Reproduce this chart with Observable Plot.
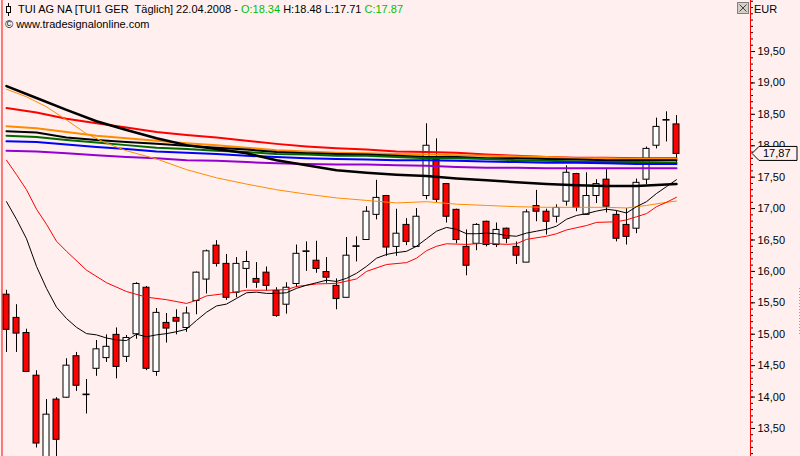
<!DOCTYPE html>
<html><head><meta charset="utf-8">
<script src="https://cdn.jsdelivr.net/npm/d3@7"></script>
<script src="https://cdn.jsdelivr.net/npm/@observablehq/plot@0.6"></script>
<style>html,body{margin:0;padding:0;background:#fff0ef;overflow:hidden}</style>
</head><body><div id="chart"></div>
<script>
// ---- daily candles (index 0..67), last bar = 22.04.2008 ----
const open  = [15.63,15.26,15.02,14.34,12.98,13.96,13.99,14.65,14.03,14.45,
               14.62,14.99,14.64,15.00,15.74,14.40,15.18,15.26,15.10,15.53,
               15.87,16.41,16.12,15.66,16.04,15.88,15.98,15.69,15.47,15.80,
               16.31,16.17,15.99,15.77,15.58,16.39,16.50,16.90,17.20,16.39,
               16.74,16.39,17.20,17.78,17.39,16.98,16.39,16.44,16.79,16.42,
               16.68,16.39,16.14,17.04,16.95,16.87,17.11,17.55,16.90,17.20,
               17.46,16.90,16.74,16.68,17.46,18.00,18.40,18.34];
const high  = [15.70,15.47,15.08,14.42,13.96,13.99,14.61,14.71,14.28,14.90,
               14.99,15.10,14.98,15.82,15.76,15.41,15.33,15.39,15.43,15.99,
               16.34,16.49,16.27,16.22,16.32,16.14,16.07,15.74,15.82,16.42,
               16.47,16.48,16.22,15.88,16.54,16.55,17.03,17.45,17.21,16.99,
               16.84,17.00,18.35,18.11,17.40,16.99,16.66,16.76,16.80,16.77,
               16.69,16.47,16.98,17.29,16.99,17.06,17.68,17.56,17.57,17.46,
               17.62,16.96,17.00,17.47,17.98,18.44,18.54,18.48];
const low   = [14.71,14.71,14.39,13.19,12.95,12.98,13.98,14.09,13.73,14.33,
               14.55,14.29,14.55,14.92,14.42,14.33,14.86,14.99,15.03,15.31,
               15.64,16.07,15.54,15.58,15.73,15.73,15.69,15.27,15.32,15.74,
               16.00,15.97,15.81,15.39,15.58,16.15,16.50,16.82,16.24,16.24,
               16.41,16.39,17.14,17.08,16.77,16.44,15.93,16.33,16.39,16.38,
               16.44,16.11,16.14,16.79,16.58,16.77,17.04,16.95,16.90,17.08,
               16.93,16.47,16.42,16.60,17.38,17.95,18.06,17.71];
const close = [15.07,15.01,14.40,13.26,13.72,13.32,14.50,14.18,14.04,14.76,
               14.80,14.48,14.94,15.80,14.45,15.34,15.09,15.20,15.33,15.98,
               16.32,16.12,15.58,16.12,16.15,15.82,15.77,15.29,15.74,16.28,
               16.32,16.04,15.90,15.56,16.25,16.40,16.95,17.17,16.38,16.60,
               16.47,16.87,18.00,17.14,16.87,16.50,16.09,16.74,16.42,16.66,
               16.52,16.25,16.94,16.95,16.79,17.01,17.57,17.01,17.20,17.39,
               17.03,16.52,16.55,17.41,17.95,18.30,18.41,17.87];

// ---- moving averages ----
const thickIdx = [0,3,6,9,12,15,18,21,24,27,30,33,36,39,42,45,48,51,54,57,60,63,67];
const maRed    = [18.60,18.53,18.43,18.36,18.29,18.22,18.17,18.13,18.08,18.03,17.99,17.96,17.94,17.91,17.90,17.89,17.86,17.84,17.82,17.81,17.81,17.80,17.80];
const maOrange = [18.31,18.28,18.22,18.16,18.12,18.08,18.04,18.01,17.97,17.93,17.91,17.89,17.88,17.87,17.86,17.85,17.84,17.83,17.82,17.80,17.80,17.79,17.79];
const maBlackB = [18.23,18.21,18.13,18.09,18.06,18.03,18.00,17.97,17.94,17.90,17.88,17.87,17.86,17.84,17.82,17.82,17.80,17.80,17.79,17.78,17.77,17.77,17.77];
const maGreen  = [18.16,18.14,18.09,18.05,18.01,17.97,17.95,17.92,17.90,17.87,17.86,17.84,17.84,17.82,17.80,17.80,17.79,17.77,17.76,17.75,17.74,17.74,17.73];
const maBlue   = [18.07,18.06,18.02,17.98,17.95,17.91,17.89,17.87,17.84,17.82,17.80,17.79,17.78,17.77,17.77,17.76,17.75,17.74,17.73,17.73,17.72,17.71,17.71];
const maPurple = [17.92,17.91,17.88,17.85,17.82,17.80,17.77,17.76,17.74,17.72,17.71,17.70,17.70,17.69,17.68,17.66,17.65,17.65,17.64,17.64,17.64,17.64,17.64];
const maBlackA = [18.95,18.76,18.57,18.39,18.25,18.12,18.01,17.95,17.88,17.77,17.69,17.61,17.57,17.54,17.52,17.48,17.45,17.42,17.39,17.37,17.36,17.36,17.39];

const thinOrangeIdx = [0,2,4,6,8,10,12,15,18,21,24,27,30,33,36,39,42,45,48,51,54,57,60,62,64,66,67];
const thinOrange    = [18.90,18.78,18.62,18.41,18.19,18.04,17.92,17.79,17.62,17.49,17.39,17.30,17.23,17.17,17.13,17.09,17.11,17.07,17.05,17.03,17.02,17.02,17.02,17.01,17.05,17.10,17.12];

const thinRedIdx = [0,1,2,3,4,5,6,8,10,12,14,16,18,19,20,22,24,26,28,29,31,33,35,36,38,40,41,42,43,44,46,48,50,51,52,54,55,56,58,59,61,62,63,64,65,66,67];
const thinRed    = [17.77,17.54,17.30,16.99,16.75,16.48,16.32,16.02,15.82,15.68,15.59,15.55,15.49,15.54,15.61,15.65,15.70,15.70,15.71,15.76,15.80,15.81,15.88,16.00,16.11,16.14,16.21,16.33,16.40,16.44,16.43,16.45,16.43,16.44,16.51,16.56,16.60,16.66,16.73,16.78,16.79,16.82,16.87,16.92,17.03,17.10,17.18];

const thinBlack = [17.11,16.83,16.52,16.08,15.73,15.43,15.25,15.11,15.01,14.99,
                   14.94,14.91,14.90,15.00,14.96,14.99,15.01,15.04,15.08,15.22,
                   15.35,15.45,15.48,15.57,15.66,15.67,15.65,15.65,15.66,15.73,
                   15.78,15.82,15.86,15.84,15.89,15.97,16.08,16.21,16.27,16.30,
                   16.32,16.40,16.52,16.64,16.70,16.67,16.60,16.60,16.61,16.60,
                   16.57,16.56,16.61,16.64,16.67,16.72,16.83,16.89,16.92,16.96,
                   16.99,16.97,16.93,17.03,17.11,17.24,17.35,17.46];

const majorTicks = [13.5,14,14.5,15,15.5,16,16.5,17,17.5,18,18.5,19,19.5];
const minorTicks = d3.range(131, 204).map(d => d / 10);
const lastClose = 17.87;

// ---- build tables ----
const candles = open.map((o, k) => ({i: k, open: o, high: high[k], low: low[k], close: close[k]}));
const series = (idx, vals) => idx.map((k, j) => ({i: k, v: vals[j]}));
const allIdx = thinBlack.map((_, k) => k);
const bg = "#fff0ef";
const fmt = d => d.toFixed(2).replace(".", ",");

const plot = Plot.plot({
  width: 800, height: 456,
  marginLeft: 0, marginRight: 50, marginTop: 0, marginBottom: 0,
  x: {domain: [-0.6, 74.4], axis: null},
  y: {domain: [13.054, 20.312], axis: null},
  style: {background: bg, fontFamily: "Liberation Sans", fontSize: "11px", color: "black"},
  marks: [
    Plot.ruleX(candles, {x: "i", y1: "low", y2: "high", stroke: "black", strokeWidth: 1, clip: true}),
    Plot.rect(candles, {x1: d => d.i - 0.3, x2: d => d.i + 0.3, y1: "open", y2: "close",
      fill: d => d.close < d.open ? "#ff0000" : "#ffffff", stroke: "black", strokeWidth: 1, clip: true}),
    Plot.line(series(thickIdx, maRed),    {x: "i", y: "v", stroke: "#ff0000", strokeWidth: 2}),
    Plot.line(series(thickIdx, maOrange), {x: "i", y: "v", stroke: "#ff8c00", strokeWidth: 2}),
    Plot.line(series(thickIdx, maBlackB), {x: "i", y: "v", stroke: "#000000", strokeWidth: 2}),
    Plot.line(series(thickIdx, maGreen),  {x: "i", y: "v", stroke: "#006a00", strokeWidth: 2}),
    Plot.line(series(thickIdx, maBlue),   {x: "i", y: "v", stroke: "#0000ff", strokeWidth: 2}),
    Plot.line(series(thickIdx, maPurple), {x: "i", y: "v", stroke: "#9400d3", strokeWidth: 2}),
    Plot.line(series(thickIdx, maBlackA), {x: "i", y: "v", stroke: "#000000", strokeWidth: 2.5}),
    Plot.line(series(thinOrangeIdx, thinOrange), {x: "i", y: "v", stroke: "#ff8c00", strokeWidth: 1}),
    Plot.line(series(thinRedIdx, thinRed), {x: "i", y: "v", stroke: "#ff0000", strokeWidth: 1}),
    Plot.line(series(allIdx, thinBlack), {x: "i", y: "v", stroke: "#000000", strokeWidth: 1}),
    Plot.ruleX([-0.45], {stroke: "#ff0000", strokeWidth: 1}),
    Plot.ruleX([74.4], {stroke: "#ff0000", strokeWidth: 1}),
    Plot.axisY(minorTicks, {anchor: "right", tickSize: 2, tickFormat: () => "", stroke: "black"}),
    Plot.axisY(majorTicks, {anchor: "right", tickSize: 4, tickPadding: 3, tickFormat: fmt,
      fontSize: 11, fill: "black", stroke: "black"})
  ]
});
document.getElementById("chart").appendChild(plot);

// ---- decorations: header, price tag, close box ----
const svg = d3.select(plot);
const yS = plot.scale("y");
const yc = yS.apply(lastClose);
const tag = svg.append("g").attr("text-anchor", "start");
tag.append("path")
  .attr("d", `M752,${yc} L759,${yc - 7} L797,${yc - 7} L797,${yc + 7} L759,${yc + 7} Z`)
  .attr("fill", bg).attr("stroke", "black").attr("stroke-width", 1);
tag.append("text").attr("x", 763).attr("y", yc + 4)
  .attr("font-family", "Liberation Sans").attr("font-size", 11).attr("fill", "black").text(fmt(lastClose));

const hdr = svg.append("g").attr("font-family", "Liberation Sans").attr("font-size", 11).attr("text-anchor", "start");
const t1 = hdr.append("text").attr("x", 18).attr("y", 13).attr("fill", "black").style("white-space", "pre");
t1.append("tspan").text("TUI AG NA [TUI1 GER  Täglich] 22.04.2008 - ");
t1.append("tspan").attr("fill", "#00c000").text("O:18.34");
t1.append("tspan").text(" H:18.48 L:17.71 ");
t1.append("tspan").attr("fill", "#00c000").text("C:17.87");
hdr.append("text").attr("x", 5).attr("y", 28).attr("fill", "black").text("© www.tradesignalonline.com");
// candle icon
hdr.append("line").attr("x1", 8.5).attr("x2", 8.5).attr("y1", 3).attr("y2", 16).attr("stroke", "black");
hdr.append("rect").attr("x", 6.5).attr("y", 6.5).attr("width", 4).attr("height", 6).attr("fill", bg).attr("stroke", "black");
// close box + currency
const cb = svg.append("g").attr("text-anchor", "start");
cb.append("rect").attr("x", 737.5).attr("y", 2.5).attr("width", 11).attr("height", 11).attr("fill", "#d4d0c8").attr("stroke", "#808080");
cb.append("path").attr("d", "M739.5,4.5 L746.5,11.5 M746.5,4.5 L739.5,11.5").attr("stroke", "#404040").attr("stroke-width", 1);
cb.append("text").attr("x", 754).attr("y", 13).attr("font-family", "Liberation Sans").attr("font-size", 11).attr("fill", "black").text("EUR");
svg.append("line").attr("x1", 799.5).attr("x2", 799.5).attr("y1", 288).attr("y2", 334)
  .attr("stroke", "#a0a0a0").attr("stroke-dasharray", "1,2");
</script></body></html>
